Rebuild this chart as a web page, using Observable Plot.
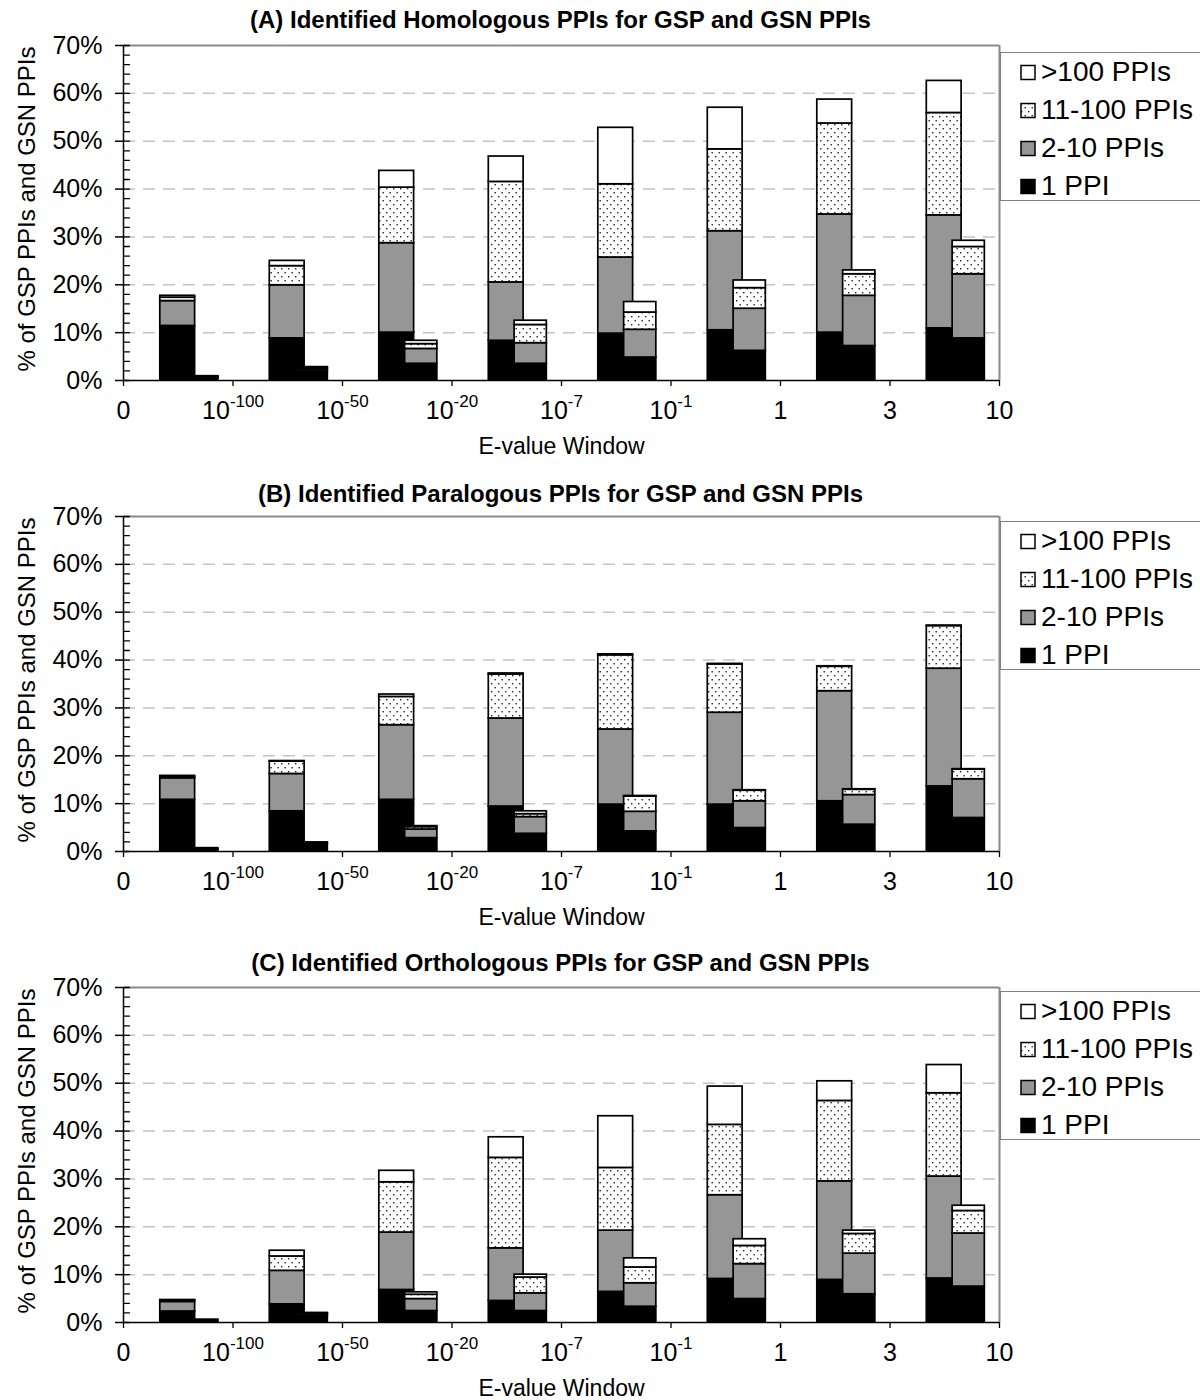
<!DOCTYPE html>
<html><head><meta charset="utf-8">
<script src="https://cdn.jsdelivr.net/npm/d3@7"></script>
<script src="https://cdn.jsdelivr.net/npm/@observablehq/plot@0.6"></script>
<style>
body{margin:0;background:#fff;font-family:"Liberation Sans",Arial,Helvetica,sans-serif;color:#000;}
#root{position:relative;width:1200px;height:1400px;overflow:hidden;background:#fff;}
.title{position:absolute;left:0;width:1121px;text-align:center;font-weight:bold;font-size:24px;line-height:28px;white-space:nowrap;}
.ylab{position:absolute;width:400px;height:30px;line-height:30px;text-align:center;font-size:24px;transform:rotate(-90deg);white-space:nowrap;}
.panel{position:absolute;left:0;}
.legend{position:absolute;left:1000px;width:230px;height:149px;border:1px solid #808080;background:#fff;box-sizing:border-box;}
.legend .item{position:absolute;left:19px;height:38px;display:flex;align-items:center;font-size:28px;white-space:nowrap;}
.legend svg{margin-right:4px;}
</style></head><body>
<svg width="0" height="0" style="position:absolute"><defs>
<pattern id="dots" patternUnits="userSpaceOnUse" width="7" height="8">
<rect width="7" height="8" fill="#fff"/>
<rect x="1" y="1" width="1.4" height="1.4" fill="#222"/>
<rect x="4.5" y="5" width="1.4" height="1.4" fill="#222"/>
</pattern></defs></svg>
<div id="root"></div>
<script>
// ---------- data ----------
const tickLabels = ["0","10^-100","10^-50","10^-20","10^-7","10^-1","1","3","10"];
const levels = ["1 PPI","2-10 PPIs","11-100 PPIs",">100 PPIs"];
const legendOrder = [">100 PPIs","11-100 PPIs","2-10 PPIs","1 PPI"];
const panelTitles = [
  "(A) Identified Homologous PPIs for GSP and GSN PPIs",
  "(B) Identified Paralogous PPIs for GSP and GSN PPIs",
  "(C) Identified Orthologous PPIs for GSP and GSN PPIs"
];
const yTicks = [0,10,20,30,40,50,60,70];
const gridTicks = [10,20,30,40,50,60];
const minorTicks = [2,4,6,8,12,14,16,18,22,24,26,28,32,34,36,38,42,44,46,48,52,54,56,58,62,64,66,68];
const xLabel = "E-value Window";
const yLabel = "% of GSP PPIs and GSN PPIs";

// (A) Homologous
const homGSP_1     = [11.4, 8.8, 10.0,  8.3,  9.8, 10.5, 10.0, 10.9];
const homGSP_2to10 = [ 5.2,11.1, 18.7, 12.2, 15.9, 20.7, 24.7, 23.6];
const homGSP_11to100=[ 0.7, 4.0, 11.6, 21.0, 15.3, 17.1, 19.0, 21.4];
const homGSP_gt100 = [ 0.4, 1.1,  3.5,  5.3, 11.8,  8.7,  5.0,  6.7];
const homGSN_1     = [ 0.5, 1.9,  3.5,  3.5,  4.8,  6.2,  7.2,  8.8];
const homGSN_2to10 = [ 0.2, 0.4,  3.1,  4.3,  5.8,  8.8, 10.5, 13.4];
const homGSN_11to100=[ 0.1, 0.3,  1.0,  3.8,  3.6,  4.3,  4.5,  5.7];
const homGSN_gt100 = [ 0.1, 0.2,  0.7,  0.9,  2.2,  1.6,  0.8,  1.3];
// (B) Paralogous
const parGSP_1     = [10.8, 8.4, 10.8,  9.4,  9.8,  9.8, 10.5, 13.6];
const parGSP_2to10 = [ 4.5, 7.8, 15.6, 18.4, 15.7, 19.2, 23.0, 24.6];
const parGSP_11to100=[ 0.3, 2.6,  5.9,  9.2, 15.5, 10.1,  5.1,  8.9];
const parGSP_gt100 = [ 0.2, 0.1,  0.5,  0.2,  0.2,  0.1,  0.1,  0.1];
const parGSN_1     = [ 0.5, 1.7,  2.8,  3.7,  4.2,  4.9,  5.6,  7.0];
const parGSN_2to10 = [ 0.2, 0.2,  1.8,  3.5,  4.1,  5.6,  6.2,  8.1];
const parGSN_11to100=[ 0.0, 0.0,  0.5,  0.6,  3.2,  2.2,  1.1,  2.0];
const parGSN_gt100 = [ 0.0, 0.0,  0.2,  0.6,  0.1,  0.1,  0.1,  0.1];
// (C) Orthologous
const ortGSP_1     = [ 2.3, 3.8,  6.8,  4.5,  6.4,  9.1,  8.9,  9.2];
const ortGSP_2to10 = [ 2.0, 7.0, 12.0, 11.0, 12.8, 17.5, 20.6, 21.3];
const ortGSP_11to100=[ 0.3, 3.0, 10.5, 18.9, 13.1, 14.7, 16.8, 17.4];
const ortGSP_gt100 = [ 0.1, 1.2,  2.4,  4.3, 10.8,  8.0,  4.1,  5.9];
const ortGSN_1     = [ 0.4, 1.3,  2.4,  2.4,  3.3,  4.9,  5.9,  7.5];
const ortGSN_2to10 = [ 0.2, 0.4,  2.5,  3.7,  4.9,  7.3,  8.5, 11.1];
const ortGSN_11to100=[ 0.0, 0.2,  0.9,  3.3,  3.3,  3.8,  4.1,  4.7];
const ortGSN_gt100 = [ 0.0, 0.1,  0.5,  0.6,  1.9,  1.4,  0.7,  1.1];

const panels = [
  {GSP:[homGSP_1,homGSP_2to10,homGSP_11to100,homGSP_gt100], GSN:[homGSN_1,homGSN_2to10,homGSN_11to100,homGSN_gt100]},
  {GSP:[parGSP_1,parGSP_2to10,parGSP_11to100,parGSP_gt100], GSN:[parGSN_1,parGSN_2to10,parGSN_11to100,parGSN_gt100]},
  {GSP:[ortGSP_1,ortGSP_2to10,ortGSP_11to100,ortGSP_gt100], GSN:[ortGSN_1,ortGSN_2to10,ortGSN_11to100,ortGSN_gt100]}
];

// ---------- style / layout ----------
const fills = {"1 PPI":"#000","2-10 PPIs":"#969696","11-100 PPIs":"url(#dots)",">100 PPIs":"#fff"};
const barPos = {GSP:[0.336,0.654], GSN:[0.572,0.866]};
const plotTops = [44.5, 515.5, 986.5];
const titleCenters = [20, 494, 963];
const legendTops = [52, 521, 991];
const MT = 10, PH = 335, MB = 80;

function stackRows(series, set){
  const rows = [];
  for (let i = 0; i < tickLabels.length - 1; i++){
    let acc = 0;
    levels.forEach((lv, k) => {
      const v = series[k][i];
      if (v > 0) rows.push({set, win:i, level:lv, y1:acc, y2:acc+v, x1:i+barPos[set][0], x2:i+barPos[set][1]});
      acc += v;
    });
  }
  return rows;
}

const tickShape = {draw(context, l){ context.moveTo(0,0); context.lineTo(0,-l); }};
const root = document.getElementById("root");
const ns = "http://www.w3.org/2000/svg";

panels.forEach((p, pi) => {
  const marks = [
    Plot.ruleY(gridTicks, {stroke:"#c4c4c4", strokeWidth:1.5, strokeDasharray:"12,8"})
  ];
  ["GSP","GSN"].forEach(set => {
    const rows = stackRows(p[set], set);
    levels.forEach(lv => {
      marks.push(Plot.rect(rows.filter(r => r.level === lv), {
        x1:"x1", x2:"x2", y1:"y1", y2:"y2", fill: fills[lv], stroke:"#000", strokeWidth:1.7
      }));
    });
  });
  marks.push(
    Plot.ruleY([70], {stroke:"#8a8a8a", strokeWidth:2}),
    Plot.ruleX([8], {stroke:"#8a8a8a", strokeWidth:2}),
    Plot.ruleX([0], {stroke:"#000", strokeWidth:1.5}),
    Plot.ruleY([0], {stroke:"#000", strokeWidth:1.5}),
    Plot.axisY({ticks: yTicks, tickSize: 8, tickPadding: 13, tickFormat: d => d + "%", label: null, fontSize: 25, strokeWidth:1.5}),
    Plot.vector(yTicks.concat(minorTicks), {x: 0, y: d => d, length: 6, rotate: 90, anchor: "start", shape: tickShape, stroke:"#000", strokeWidth:1.3}),
    Plot.axisX({ticks: d3.range(tickLabels.length), tickSize: 6, tickPadding: 15, tickFormat: i => tickLabels[i], label: null, fontSize: 25, strokeWidth:1.3}),
    Plot.text([xLabel], {text: d => d, frameAnchor: "bottom", dy: 73, fontSize: 23})
  );
  const chart = Plot.plot({
    width: 1200, height: MT + PH + MB,
    marginLeft: 123, marginRight: 201, marginTop: MT, marginBottom: MB,
    x: {domain: [0, 8], axis: null},
    y: {domain: [0, 70], axis: null},
    style: {fontFamily: '"Liberation Sans", Arial, sans-serif', color: "#000", background: "transparent", overflow: "visible"},
    marks
  });
  // superscripts in x tick labels
  chart.querySelectorAll('g[aria-label="x-axis tick label"] text').forEach(t => {
    const s = t.textContent;
    if (s.includes("^")) {
      const [base, exp] = s.split("^");
      t.textContent = "";
      const a = document.createElementNS(ns, "tspan"); a.textContent = base; t.appendChild(a);
      const b = document.createElementNS(ns, "tspan"); b.textContent = exp;
      b.setAttribute("font-size", "17"); b.setAttribute("dy", "-12"); t.appendChild(b);
    }
  });
  const wrap = document.createElement("div");
  wrap.className = "panel";
  wrap.style.top = (plotTops[pi] - MT) + "px";
  wrap.appendChild(chart);
  root.appendChild(wrap);

  const title = document.createElement("div");
  title.className = "title";
  title.style.top = (titleCenters[pi] - 14) + "px";
  title.textContent = panelTitles[pi];
  root.appendChild(title);

  const yl = document.createElement("div");
  yl.className = "ylab";
  yl.style.left = (27 - 200) + "px";
  yl.style.top = (plotTops[pi] + 164 - 15) + "px";
  yl.textContent = yLabel;
  root.appendChild(yl);

  const leg = document.createElement("div");
  leg.className = "legend";
  leg.style.top = legendTops[pi] + "px";
  legendOrder.forEach((lv, k) => {
    const it = document.createElement("div");
    it.className = "item";
    it.style.top = (k * 38) + "px";
    it.innerHTML = `<svg width="17" height="17"><rect x="1" y="1.5" width="14" height="14" fill="${fills[lv]}" stroke="#000" stroke-width="1.5"/></svg><span>${lv.replace(">","&gt;")}</span>`;
    leg.appendChild(it);
  });
  root.appendChild(leg);
});
</script>
</body></html>
